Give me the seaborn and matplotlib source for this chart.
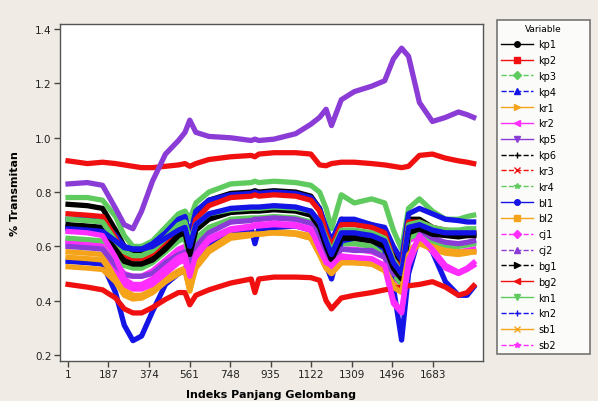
import matplotlib
matplotlib.use("Agg")
import matplotlib.pyplot as plt
from matplotlib.lines import Line2D
import seaborn as sns
import pandas as pd

x_idx = [1, 90, 160, 220, 260, 300, 340, 390, 450, 510, 540, 562, 590, 650, 750,
         845, 862, 880, 950, 1050, 1120, 1160, 1190, 1215, 1260, 1320, 1400, 1460,
         1500, 1538, 1570, 1620, 1680, 1740, 1800, 1840, 1870]

kp1 = [0.755, 0.75, 0.74, 0.66, 0.60, 0.58, 0.58, 0.60, 0.64, 0.69, 0.70, 0.59, 0.72, 0.77, 0.795,
       0.80, 0.805, 0.80, 0.805, 0.80, 0.785, 0.74, 0.66, 0.60, 0.70, 0.69, 0.68, 0.66,
       0.58, 0.53, 0.70, 0.70, 0.67, 0.65, 0.64, 0.645, 0.645]
kp2 = [0.915, 0.905, 0.91, 0.905, 0.90, 0.895, 0.89, 0.89, 0.895, 0.90, 0.905, 0.895, 0.905, 0.92, 0.93,
       0.935, 0.93, 0.94, 0.945, 0.945, 0.94, 0.90, 0.897, 0.905, 0.91, 0.91, 0.905, 0.90,
       0.895, 0.89, 0.895, 0.935, 0.94, 0.925, 0.915, 0.91, 0.905]
kp3 = [0.78, 0.78, 0.77, 0.71, 0.64, 0.60, 0.60, 0.62, 0.67, 0.72, 0.73, 0.70, 0.76, 0.80, 0.83,
       0.835, 0.84, 0.835, 0.84, 0.835, 0.825, 0.80, 0.74, 0.665, 0.79, 0.76, 0.775, 0.76,
       0.66, 0.59, 0.74, 0.775, 0.73, 0.70, 0.70, 0.71, 0.715]
kp4 = [0.70, 0.70, 0.69, 0.64, 0.60, 0.59, 0.59, 0.61, 0.65, 0.70, 0.71, 0.64, 0.73, 0.77, 0.79,
       0.795, 0.80, 0.795, 0.80, 0.795, 0.78, 0.74, 0.67, 0.62, 0.70, 0.70, 0.68, 0.67,
       0.60, 0.55, 0.72, 0.74, 0.72, 0.70, 0.695, 0.69, 0.69]
kr1 = [0.58, 0.575, 0.57, 0.50, 0.44, 0.42, 0.42, 0.44, 0.48, 0.51, 0.52, 0.44, 0.54, 0.60, 0.645,
       0.65, 0.65, 0.65, 0.655, 0.65, 0.64, 0.58, 0.53, 0.51, 0.55, 0.55, 0.54, 0.52,
       0.46, 0.44, 0.58, 0.62, 0.60, 0.58, 0.575, 0.58, 0.58]
kr2 = [0.62, 0.615, 0.61, 0.54, 0.50, 0.49, 0.49, 0.51, 0.55, 0.59, 0.60, 0.52, 0.61, 0.66, 0.69,
       0.70, 0.70, 0.70, 0.705, 0.70, 0.685, 0.63, 0.56, 0.54, 0.59, 0.59, 0.58, 0.56,
       0.48, 0.45, 0.62, 0.64, 0.61, 0.59, 0.58, 0.585, 0.59]
kp5 = [0.83, 0.835, 0.825, 0.74, 0.68, 0.665, 0.73, 0.84, 0.94, 0.99, 1.02, 1.065, 1.02, 1.005, 1.0,
       0.99, 0.995, 0.99, 0.995, 1.015, 1.05, 1.075, 1.105, 1.045, 1.14, 1.17, 1.19, 1.21,
       1.29, 1.33, 1.30, 1.13, 1.06, 1.075, 1.095, 1.085, 1.075]
kp6 = [0.68, 0.675, 0.67, 0.60, 0.55, 0.535, 0.535, 0.555, 0.60, 0.65, 0.66, 0.58, 0.67, 0.71, 0.73,
       0.735, 0.735, 0.735, 0.74, 0.735, 0.72, 0.68, 0.61, 0.56, 0.64, 0.64, 0.63, 0.61,
       0.53, 0.49, 0.66, 0.67, 0.65, 0.645, 0.64, 0.64, 0.64]
kr3 = [0.72, 0.715, 0.71, 0.63, 0.57, 0.555, 0.555, 0.575, 0.62, 0.67, 0.68, 0.60, 0.70, 0.75, 0.78,
       0.785, 0.79, 0.785, 0.79, 0.785, 0.77, 0.73, 0.65, 0.60, 0.68, 0.68, 0.67, 0.65,
       0.55, 0.52, 0.69, 0.69, 0.67, 0.66, 0.655, 0.655, 0.65]
kr4 = [0.63, 0.625, 0.62, 0.56, 0.53, 0.52, 0.52, 0.54, 0.58, 0.62, 0.63, 0.55, 0.63, 0.67, 0.70,
       0.705, 0.705, 0.705, 0.71, 0.705, 0.69, 0.64, 0.58, 0.55, 0.61, 0.61, 0.60, 0.58,
       0.50, 0.46, 0.63, 0.65, 0.62, 0.60, 0.60, 0.605, 0.61]
bl1 = [0.545, 0.54, 0.535, 0.43, 0.31, 0.253, 0.27, 0.36, 0.46, 0.50, 0.51, 0.47, 0.55, 0.60, 0.64,
       0.665, 0.61, 0.665, 0.67, 0.675, 0.66, 0.61, 0.53, 0.48, 0.62, 0.63, 0.625, 0.59,
       0.45, 0.255, 0.50, 0.64, 0.58, 0.47, 0.42, 0.42, 0.45]
bl2 = [0.525, 0.52, 0.515, 0.47, 0.42, 0.406, 0.41, 0.43, 0.47, 0.50, 0.515, 0.44, 0.52, 0.58, 0.63,
       0.64, 0.645, 0.645, 0.65, 0.645, 0.63, 0.57, 0.52, 0.50, 0.54, 0.54, 0.535, 0.52,
       0.46, 0.44, 0.58, 0.62, 0.60, 0.585, 0.58, 0.58, 0.58]
cj1 = [0.61, 0.605, 0.60, 0.52, 0.46, 0.443, 0.443, 0.46, 0.50, 0.54, 0.55, 0.47, 0.56, 0.62, 0.66,
       0.67, 0.675, 0.675, 0.68, 0.675, 0.66, 0.59, 0.53, 0.52, 0.555, 0.55, 0.55, 0.52,
       0.39, 0.355, 0.53, 0.63, 0.58, 0.52, 0.50, 0.515, 0.53]
cj2 = [0.60, 0.595, 0.59, 0.53, 0.495, 0.49, 0.49, 0.50, 0.54, 0.57, 0.58, 0.52, 0.60, 0.65, 0.69,
       0.695, 0.70, 0.70, 0.705, 0.70, 0.685, 0.63, 0.57, 0.55, 0.59, 0.585, 0.585, 0.56,
       0.50, 0.49, 0.67, 0.66, 0.63, 0.615, 0.61, 0.615, 0.62]
bg1 = [0.67, 0.665, 0.66, 0.59, 0.545, 0.535, 0.535, 0.55, 0.59, 0.64, 0.65, 0.57, 0.66, 0.70, 0.725,
       0.73, 0.73, 0.73, 0.735, 0.73, 0.715, 0.67, 0.60, 0.55, 0.63, 0.63, 0.62, 0.60,
       0.52, 0.48, 0.65, 0.665, 0.645, 0.64, 0.635, 0.64, 0.64]
bg2 = [0.46, 0.45, 0.44, 0.41, 0.37, 0.355, 0.355, 0.375, 0.405, 0.43, 0.43, 0.385, 0.42, 0.44, 0.465,
       0.48, 0.43, 0.48, 0.487, 0.487, 0.485, 0.475, 0.40, 0.37, 0.41, 0.42, 0.43, 0.44,
       0.445, 0.45, 0.455, 0.46, 0.47, 0.45, 0.42, 0.43, 0.455]
kn1 = [0.70, 0.695, 0.69, 0.62, 0.58, 0.566, 0.566, 0.585, 0.63, 0.68, 0.69, 0.62, 0.68, 0.72, 0.735,
       0.74, 0.74, 0.74, 0.745, 0.74, 0.73, 0.69, 0.63, 0.58, 0.66, 0.66, 0.65, 0.63,
       0.55, 0.50, 0.68, 0.69, 0.67, 0.66, 0.66, 0.665, 0.665]
kn2 = [0.665, 0.66, 0.655, 0.62, 0.595, 0.59, 0.59, 0.60, 0.63, 0.66, 0.67, 0.60, 0.68, 0.72, 0.74,
       0.745, 0.745, 0.745, 0.75, 0.745, 0.73, 0.69, 0.62, 0.57, 0.65, 0.65, 0.64, 0.62,
       0.54, 0.50, 0.67, 0.68, 0.66, 0.65, 0.65, 0.65, 0.65]
sb1 = [0.56, 0.555, 0.55, 0.48, 0.43, 0.41, 0.41, 0.43, 0.47, 0.50, 0.51, 0.435, 0.53, 0.59, 0.64,
       0.645, 0.645, 0.645, 0.65, 0.645, 0.63, 0.57, 0.52, 0.50, 0.54, 0.54, 0.535, 0.51,
       0.45, 0.43, 0.57, 0.61, 0.59, 0.575, 0.57, 0.575, 0.58]
sb2 = [0.655, 0.65, 0.64, 0.56, 0.48, 0.46, 0.46, 0.48, 0.52, 0.56, 0.57, 0.49, 0.57, 0.63, 0.665,
       0.675, 0.68, 0.68, 0.685, 0.68, 0.665, 0.59, 0.54, 0.53, 0.565, 0.56, 0.555, 0.53,
       0.40, 0.36, 0.55, 0.64, 0.59, 0.53, 0.505, 0.52, 0.54]

names = ['kp1', 'kp2', 'kp3', 'kp4', 'kr1', 'kr2', 'kp5', 'kp6', 'kr3', 'kr4',
         'bl1', 'bl2', 'cj1', 'cj2', 'bg1', 'bg2', 'kn1', 'kn2', 'sb1', 'sb2']
series = [kp1, kp2, kp3, kp4, kr1, kr2, kp5, kp6, kr3, kr4,
          bl1, bl2, cj1, cj2, bg1, bg2, kn1, kn2, sb1, sb2]

x_ticks = [1, 187, 374, 561, 748, 935, 1122, 1309, 1496, 1683]
y_ticks = [0.2, 0.4, 0.6, 0.8, 1.0, 1.2, 1.4]

# minitab style cycles: 7 colours, 10 symbols
base_cols = ['#000000', '#F01010', '#5FCB5F', '#1414E6', '#F5A31A', '#FF2EFF', '#8C3CD6']
symbols = ['o', 's', 'D', '^', '>', '<', 'v', '+', 'x', '*']
dashed = {'kp3', 'kp4', 'kp6', 'kr3', 'kr4', 'cj1', 'cj2', 'bg1', 'kn2', 'sb2'}
palette = {n: base_cols[i % 7] for i, n in enumerate(names)}

df = pd.DataFrame({
    'Indeks': x_idx * len(names),
    'Transmitan': [v for s in series for v in s],
    'Variable': [n for n in names for _ in x_idx],
})

fig = plt.figure(figsize=(5.98, 4.02), dpi=100, facecolor='#F0ECE5')
ax = fig.add_axes([60 / 598, 1 - 362 / 402, 423 / 598, 337 / 402])
ax.set_facecolor('white')

sns.lineplot(data=df, x='Indeks', y='Transmitan', hue='Variable', hue_order=names,
             palette=palette, linewidth=3.8, legend=False, sort=False, ax=ax)

ax.set_xlim(-36, 1913)
ax.set_ylim(0.178, 1.419)
ax.set_xticks(x_ticks)
ax.set_yticks(y_ticks)
ax.set_yticklabels([f'{v:.1f}' for v in y_ticks])
ax.tick_params(labelsize=7.5, length=4, width=1, color='#444444', labelcolor='#222222', pad=2)
for sp in ax.spines.values():
    sp.set_color('#555555')
    sp.set_linewidth(1.0)
ax.set_xlabel('Indeks Panjang Gelombang', fontsize=8, fontweight='bold', labelpad=7)
ax.set_ylabel('% Transmitan', fontsize=8, fontweight='bold', labelpad=11)

handles = [Line2D([], [], color=palette[n], marker=symbols[i % 10], markersize=4,
                  linestyle='--' if n in dashed else '-', linewidth=1)
           for i, n in enumerate(names)]
leg = fig.legend(handles, names, title='Variable', loc='upper left',
                 bbox_to_anchor=(497 / 598, 1 - 25 / 402, 93 / 598, 0.01), mode='expand',
                 frameon=True, fancybox=False, edgecolor='#555555', facecolor='white',
                 fontsize=7, title_fontsize=6.5, handlelength=3.3, labelspacing=0.6,
                 borderpad=0.45, handletextpad=0.5, borderaxespad=0)
leg.get_frame().set_linewidth(1.2)

fig.savefig('out.png', dpi=100, facecolor=fig.get_facecolor())
